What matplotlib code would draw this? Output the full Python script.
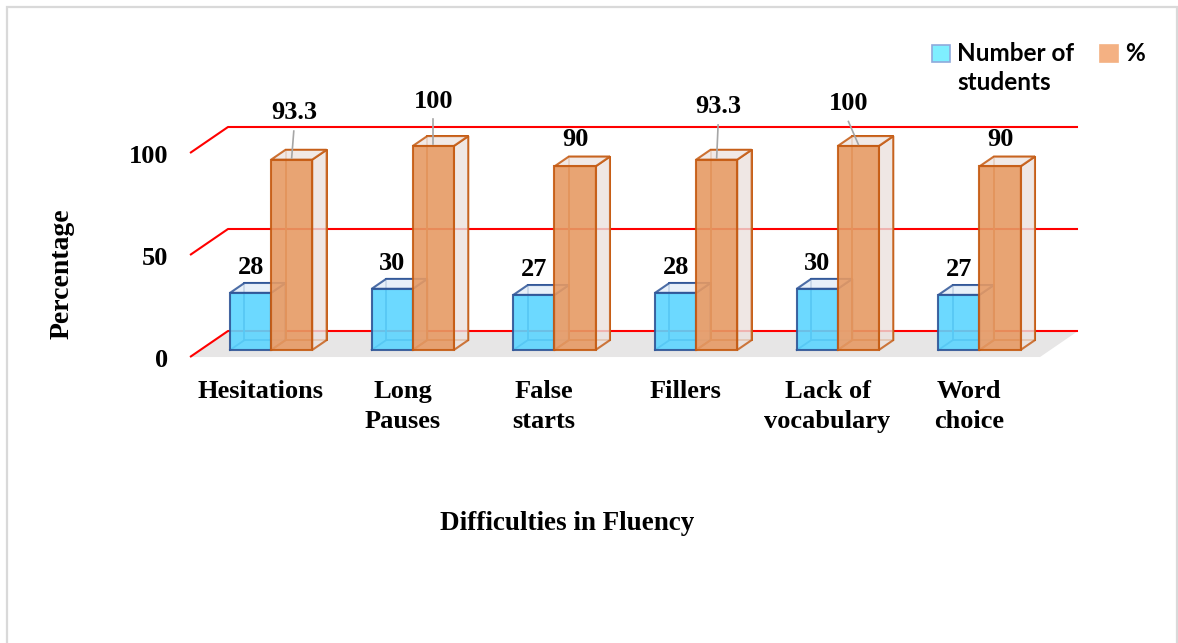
import matplotlib.pyplot as plt
from matplotlib.patches import Polygon, Rectangle

categories = ["Hesitations", "Long\nPauses", "False\nstarts", "Fillers",
              "Lack of\nvocabulary", "Word\nchoice"]
students = [28, 30, 27, 28, 30, 27]
percent = [93.3, 100, 90, 93.3, 100, 90]
gridvals = [0, 50, 100]
series_names = ["Number of\nstudents", "%"]

W, H = 1178, 643
PX_X = 141.67   # pixels per category slot
PX_Y = 2.04     # pixels per percent
DX, DY = 0.268, 12.75          # oblique shift for a full floor depth
Z_FRONT, Z_BACK = 0.27, 0.65   # bar depth inside the floor
BAR_W = 0.29

SERIF = {"family": "Liberation Serif", "weight": "bold"}

BLUE = dict(face="#5CD5FF", edge="#2F5597", side="#DDEBF7", top="#E4EEF8")
ORANGE = dict(face="#E69A64", edge="#C55A11", side="#EBE2DE", top="#EFE6E2")


def proj(x, v, z):
    """Map a point (category x, value v, depth z) to the flat axes."""
    return (x - (1 - z) * DX, v - (1 - z) * DY)


fig = plt.figure(figsize=(W / 100, H / 100), dpi=100)
ax = fig.add_axes([0, 0, 1, 1])
ax.set_xlim(-0.5 - 228 / PX_X, -0.5 + (W - 228) / PX_X)
ax.set_ylim(-(H - 331) / PX_Y, 331 / PX_Y)
ax.axis("off")

# chart border
fig.patches.append(Rectangle((7 / W, -0.02), 1170 / W, 1 - 7 / H + 0.02,
                             transform=fig.transFigure, fill=False,
                             ec="#D9D9D9", lw=1.6, zorder=0))

n = len(categories)
left, right = -0.5, n - 0.5

# floor
floor = [proj(left, 0, 0), proj(right, 0, 0), proj(right, 0, 1), proj(left, 0, 1)]
ax.add_patch(Polygon(floor, closed=True, fc="#E7E6E6", ec="none", zorder=1))

# gridlines: side wall diagonal + back wall line
for g in gridvals:
    pts = [proj(left, g, 0), proj(left, g, 1), proj(right, g, 1)]
    ax.plot([p[0] for p in pts], [p[1] for p in pts], color="#FF0000",
            lw=1.5, zorder=2, solid_capstyle="butt")
    fx, fy = proj(left, g, 0)
    ax.text(fx - 22 / PX_X, fy - 1.5, str(g), ha="right", va="center",
            fontsize=19, **SERIF)


def box(x0, h, c, z):
    x1 = x0 + BAR_W
    zf, zb = Z_FRONT, Z_BACK
    back = [proj(x0, 0, zb), proj(x1, 0, zb), proj(x1, h, zb), proj(x0, h, zb)]
    ax.add_patch(Polygon(back, closed=True, fill=False, ec=c["edge"],
                         lw=1.3, zorder=z))
    a, b = proj(x0, 0, zf), proj(x0, 0, zb)
    ax.plot([a[0], b[0]], [a[1], b[1]], color=c["edge"], lw=1.3, zorder=z)
    side = [proj(x1, 0, zf), proj(x1, 0, zb), proj(x1, h, zb), proj(x1, h, zf)]
    ax.add_patch(Polygon(side, closed=True, fc=c["side"], ec=c["edge"],
                         lw=1.5, alpha=0.8, zorder=z))
    top = [proj(x0, h, zf), proj(x1, h, zf), proj(x1, h, zb), proj(x0, h, zb)]
    ax.add_patch(Polygon(top, closed=True, fc=c["top"], ec=c["edge"],
                         lw=1.5, alpha=0.85, zorder=z))
    ax.add_patch(Rectangle(proj(x0, 0, zf), BAR_W, h, fc=c["face"],
                           ec=c["edge"], lw=1.5, alpha=0.9, zorder=z + 0.5))
    # front-top centre, used for the value label
    return proj(x0 + BAR_W / 2, h, zf)


# label lift above the bar top and sideways nudge for the % series
pct_lift = [23, 22, 13, 26, 21, 13]
pct_nudge = [0.015, 0.0, 0.0, 0.01, -0.07, 0.0]

for i in range(n):
    bx, by = box(i - BAR_W, students[i], BLUE, 3)
    ax.text(bx, by + 12.5, f"{students[i]:g}", ha="center", va="center",
            fontsize=19, zorder=10, **SERIF)
    ox, oy = box(i, percent[i], ORANGE, 5)
    lx, ly = ox + pct_nudge[i], oy + pct_lift[i]
    ax.text(lx, ly, f"{percent[i]:g}", ha="center", va="center",
            fontsize=19, zorder=10, **SERIF)
    if pct_lift[i] > 15:
        ax.plot([lx, ox], [ly - 9, oy + 0.8], color="#A6A6A6", lw=1.2, zorder=9)

    cx, cy = proj(i, 0, 0)
    ax.text(cx, cy - 11.5, categories[i], ha="center", va="top",
            fontsize=19, linespacing=1.35, **SERIF)

# axis titles
fig.text(62 / W, 1 - 274 / H, "Percentage", rotation=90, ha="center",
         va="center", fontsize=20, **SERIF)
fig.text(567 / W, 1 - 523 / H, "Difficulties in Fluency", ha="center",
         va="center", fontsize=19.5, **SERIF)

# legend
legend_items = [(932, "#7FEFFF", "#8FAADC"), (1100, "#F4B183", "#F4B183")]
for (lx, fc, ec), name in zip(legend_items, series_names):
    fig.patches.append(Rectangle((lx / W, 1 - 62 / H), 18 / W, 17 / H,
                                 transform=fig.transFigure, fc=fc, ec=ec,
                                 lw=1.2))
    fig.text((lx + 25) / W, 1 - 42 / H, name, ha="left", va="top",
             fontsize=17.5, family="Lato", weight="bold", linespacing=1.3)

fig.savefig("out.png", dpi=100)
